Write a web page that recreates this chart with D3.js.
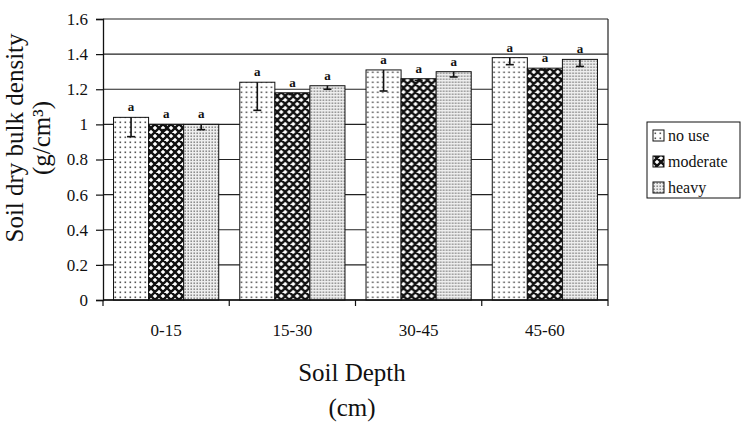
<!DOCTYPE html>
<html>
<head>
<meta charset="utf-8">
<script src="https://cdn.jsdelivr.net/npm/d3@7"></script>
<style>
  body { margin: 0; background: #fff; }
  text { font-family: "Liberation Serif", "Times New Roman", serif; fill: #111; }
</style>
</head>
<body>
<svg id="chart" width="744" height="440"></svg>
<script>
// values
var depths = ["0-15", "15-30", "30-45", "45-60"];
var series = ["no use", "moderate", "heavy"];
var noUse = [1.04, 1.24, 1.31, 1.38];
var moderate = [1.00, 1.18, 1.26, 1.32];
var heavy = [1.00, 1.22, 1.30, 1.37];
var errNoUse = [0.11, 0.16, 0.12, 0.04];
var errModerate = [0.03, 0.01, 0.01, 0.01];
var errHeavy = [0.03, 0.02, 0.03, 0.04];
var letters = ["a", "a", "a"];
var yTicks = [0, 0.2, 0.4, 0.6, 0.8, 1, 1.2, 1.4, 1.6];

var svg = d3.select("#chart");

// plot frame
var plotLeft = 103, plotRight = 608, plotTop = 19, plotBottom = 300;

var x0 = d3.scaleBand().domain(depths).range([plotLeft, plotRight]);
var x1 = d3.scaleBand().domain(series).range([0, x0.bandwidth()]).paddingOuter(0.3);
var y = d3.scaleLinear().domain([0, 1.6]).range([plotBottom, plotTop]);

// patterns for the bars
var defs = svg.append("defs");

var p1 = defs.append("pattern").attr("id", "pat-nouse")
    .attr("patternUnits", "userSpaceOnUse").attr("width", 5).attr("height", 5);
p1.append("rect").attr("width", 5).attr("height", 5).attr("fill", "#fff");
p1.append("rect").attr("x", 1.5).attr("y", 1.5).attr("width", 1.6).attr("height", 1.6).attr("fill", "#555");

var p2 = defs.append("pattern").attr("id", "pat-moderate")
    .attr("patternUnits", "userSpaceOnUse").attr("width", 8).attr("height", 8);
p2.append("rect").attr("width", 8).attr("height", 8).attr("fill", "#fff");
p2.append("path").attr("d", "M-1,-1L9,9M9,-1L-1,9M-1,7L1,9M7,-1L9,1M-1,1L1,-1M7,9L9,7")
    .attr("stroke", "#111").attr("stroke-width", 2.4);

var p3 = defs.append("pattern").attr("id", "pat-heavy")
    .attr("patternUnits", "userSpaceOnUse").attr("width", 3).attr("height", 3);
p3.append("rect").attr("width", 3).attr("height", 3).attr("fill", "#eee");
p3.append("rect").attr("x", 0.5).attr("y", 0.5).attr("width", 1.4).attr("height", 1.4).attr("fill", "#777");

var fills = { "no use": "url(#pat-nouse)", "moderate": "url(#pat-moderate)", "heavy": "url(#pat-heavy)" };

// gridlines
svg.append("g").selectAll("line")
  .data(yTicks)
  .join("line")
    .attr("x1", plotLeft).attr("x2", plotRight)
    .attr("y1", d => y(d)).attr("y2", d => y(d))
    .attr("stroke", "#222").attr("stroke-width", 1.2);

// right border of the plot
svg.append("line")
    .attr("x1", plotRight).attr("x2", plotRight).attr("y1", plotTop).attr("y2", plotBottom)
    .attr("stroke", "#222").attr("stroke-width", 1.2);

// build the rows
var rows = depths.map(function(d, i) {
  return { depth: d, items: [
    { s: "no use", v: noUse[i], e: errNoUse[i] },
    { s: "moderate", v: moderate[i], e: errModerate[i] },
    { s: "heavy", v: heavy[i], e: errHeavy[i] }
  ]};
});

var groups = svg.append("g").selectAll("g")
  .data(rows)
  .join("g")
    .attr("transform", d => "translate(" + x0(d.depth) + ",0)");

var bars = groups.selectAll("g")
  .data(d => d.items)
  .join("g");

bars.append("rect")
    .attr("x", d => x1(d.s))
    .attr("y", d => y(d.v))
    .attr("width", x1.bandwidth())
    .attr("height", d => y(0) - y(d.v))
    .attr("fill", d => fills[d.s])
    .attr("stroke", "#111")
    .attr("stroke-width", 1);

// error bars (lower side only, as printed)
bars.append("line")
    .attr("x1", d => x1(d.s) + x1.bandwidth() / 2)
    .attr("x2", d => x1(d.s) + x1.bandwidth() / 2)
    .attr("y1", d => y(d.v))
    .attr("y2", d => y(d.v - d.e))
    .attr("stroke", "#111").attr("stroke-width", 1.6);
bars.append("line")
    .attr("x1", d => x1(d.s) + x1.bandwidth() / 2 - 4)
    .attr("x2", d => x1(d.s) + x1.bandwidth() / 2 + 4)
    .attr("y1", d => y(d.v - d.e))
    .attr("y2", d => y(d.v - d.e))
    .attr("stroke", "#111").attr("stroke-width", 1.6);

// significance letters
bars.append("text")
    .attr("x", d => x1(d.s) + x1.bandwidth() / 2)
    .attr("y", d => y(d.v) - 6)
    .attr("text-anchor", "middle")
    .style("font-size", "13px")
    .style("font-weight", "bold")
    .text((d, i) => letters[i]);

// y axis
var yAxis = svg.append("g")
    .attr("transform", "translate(" + plotLeft + ",0)")
    .call(d3.axisLeft(y).tickValues(yTicks).tickSize(7).tickPadding(8)
      .tickFormat(d => d3.format("")(d)));
yAxis.select(".domain").attr("stroke", "#111").attr("stroke-width", 1.3);
yAxis.selectAll(".tick line").attr("stroke", "#111").attr("stroke-width", 1.2);
yAxis.selectAll(".tick text").style("font-size", "17px")
    .style("font-family", "'Liberation Serif', serif").attr("fill", "#111");

// x axis: ticks between categories
var xAxis = svg.append("g")
    .attr("transform", "translate(0," + plotBottom + ")");
xAxis.append("line")
    .attr("x1", plotLeft).attr("x2", plotRight)
    .attr("stroke", "#111").attr("stroke-width", 1.3);
xAxis.selectAll(".xt")
  .data(depths.concat(["end"]))
  .join("line")
    .attr("class", "xt")
    .attr("x1", (d, i) => i < depths.length ? x0(d) : plotRight)
    .attr("x2", (d, i) => i < depths.length ? x0(d) : plotRight)
    .attr("y1", 0).attr("y2", 6)
    .attr("stroke", "#111").attr("stroke-width", 1.2);
xAxis.selectAll(".xl")
  .data(depths)
  .join("text")
    .attr("class", "xl")
    .attr("x", d => x0(d) + x0.bandwidth() / 2)
    .attr("y", 36)
    .attr("text-anchor", "middle")
    .style("font-size", "17px")
    .text(d => d);

// axis titles
var yTitle = svg.append("text")
    .attr("transform", "translate(23,138) rotate(-90)")
    .attr("text-anchor", "middle")
    .style("font-size", "25px");
yTitle.append("tspan").attr("x", 0).attr("dy", 0).text("Soil dry bulk density");
yTitle.append("tspan").attr("x", 0).attr("dy", 27).text("(g/cm³)");

svg.append("text")
    .attr("x", 352).attr("y", 381)
    .attr("text-anchor", "middle")
    .style("font-size", "25px")
    .text("Soil Depth");
svg.append("text")
    .attr("x", 352).attr("y", 416)
    .attr("text-anchor", "middle")
    .style("font-size", "25px")
    .text("(cm)");

// legend
var legend = svg.append("g").attr("transform", "translate(647,122)");
legend.append("rect")
    .attr("width", 93).attr("height", 76)
    .attr("fill", "#fff").attr("stroke", "#111").attr("stroke-width", 1);
var li = legend.selectAll(".li")
  .data(series)
  .join("g")
    .attr("class", "li")
    .attr("transform", (d, i) => "translate(6," + (14 + i * 26) + ")");
li.append("rect")
    .attr("x", 0).attr("y", -6).attr("width", 11).attr("height", 11)
    .attr("fill", d => fills[d]).attr("stroke", "#111").attr("stroke-width", 1);
li.append("text")
    .attr("x", 15).attr("y", 5)
    .style("font-size", "16px")
    .text(d => d);
</script>
</body>
</html>
